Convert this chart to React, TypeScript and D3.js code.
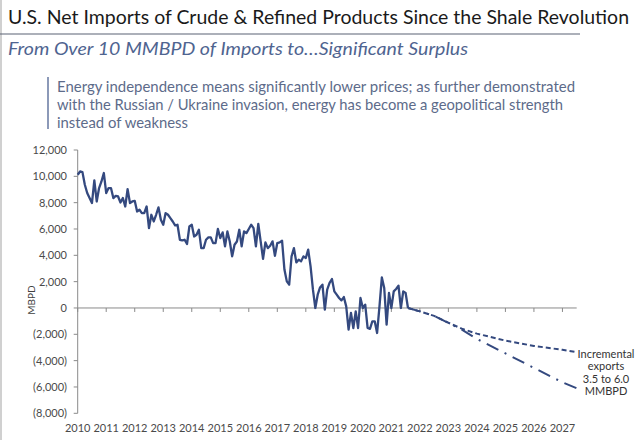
import React from 'react';
import * as d3 from 'd3';

const W = 640;
const H = 440;

// Monthly net imports (MBPD), Jan 2010 onward
const startYear = 2010;
const netImports = [
  10120, 10370, 10320, 9360, 8730, 8350, 7970, 9690, 8090, 9110, 9610, 10250,
  8730, 9110, 9110, 8350, 8520, 8470, 8010, 8350, 7710, 9030, 7970, 8090,
  8140, 7330, 7460, 7210, 7210, 7710, 6070, 7080, 6570, 7080, 7640, 6700,
  6320, 7210, 7080, 6830, 6570, 6270, 6320, 5180, 5130, 5180, 4860, 6190,
  6320, 5430, 5560, 5940, 4550, 4550, 5180, 5360, 5360, 4930, 4930, 6000,
  5310, 5740, 4680, 5810, 5050, 3920, 4800, 5050, 5940,
  4680, 5810, 5690, 6000, 6320, 6070, 4680, 6380, 5060, 3740, 4980, 4550,
  4730, 5060, 3970, 4930, 4980, 5110, 2920, 2020, 1770, 3920, 4550, 3460,
  3670, 3540, 3920, 3800, 4430, 3160, 1390, 0, 1010, 1560, 1770, -130,
  1390, 1900, 2200, 1260, 1010, 760, 580, 830, 120, -1650, -380, -1520,
  -260, -1520, 760, 0, 250, -1520, -1590, -1010, -1010, -1900, 120, 2320,
  1520, -1270, 1140, 0, 1260, 1440, 1690, 0, 1260, 1140, 0,
];

// Projections
const projYears = [2021.583, 2022, 2022.5, 2023, 2023.5, 2024, 2025, 2026, 2027, 2027.5];
const baseCase = [0, -260, -600, -1120, -1600, -1950, -2480, -2880, -3180, -3350];
const highCase = [0, -260, -600, -1140, -1680, -2350, -3450, -4550, -5650, -6100];

const yearTicks = d3.range(2010, 2028);
const yTickValues = [12000, 10000, 8000, 6000, 4000, 2000, 0, -2000, -4000, -6000, -8000];

const titleText = 'U.S. Net Imports of Crude & Refined Products Since the Shale Revolution';
const subtitleText = 'From Over 10 MMBPD of Imports to\u2026Significant Surplus';
const paragraphLines = [
  'Energy independence means significantly lower prices; as further demonstrated',
  'with the Russian / Ukraine invasion, energy has become a geopolitical strength',
  'instead of weakness',
];
const noteLines = ['Incremental', 'exports', '3.5 to 6.0', 'MMBPD'];

const FONT = 'Lato, "Open Sans", sans-serif';

export default function App() {
  const x = d3.scaleLinear().domain([2010, 2027.5]).range([77.7, 576.7]);
  const y = d3.scaleLinear().domain([-8000, 12000]).range([413.3, 150]);

  const histLine = d3
    .line<number>()
    .x((_, i) => x(startYear + i / 12))
    .y((d) => y(d));
  const projLine = d3
    .line<number>()
    .x((_, i) => x(projYears[i]))
    .y((d) => y(d));

  const fmt = (v: number) => (v < 0 ? `(${d3.format(',')(-v)})` : d3.format(',')(v));
  const lineColor = '#34497f';
  const axisColor = '#8a8a8a';

  return (
    <svg
      width={W}
      height={H}
      style={{ position: 'absolute', left: 0, top: 0, background: '#fff' }}
      fontFamily={FONT}
    >
      <line x1={1} x2={1} y1={0} y2={H} stroke="#d0d0d0" strokeWidth={2} />
      <text x={8} y={24} fontSize={19.5} fill="#1a1a1a" textLength={621} lengthAdjust="spacingAndGlyphs">
        {titleText}
      </text>
      <line x1={0} x2={580} y1={34} y2={34} stroke="#5a6275" strokeWidth={1.2} />
      <text
        x={8}
        y={55}
        fontSize={18}
        fontStyle="italic"
        fill="#4f6490"
        textLength={460}
        lengthAdjust="spacingAndGlyphs"
      >
        {subtitleText}
      </text>
      <line x1={48} x2={48} y1={77} y2={129} stroke="#6677a0" strokeWidth={1.5} />
      {paragraphLines.map((t, i) => (
        <text
          key={i}
          x={57}
          y={92 + i * 18}
          fontSize={15}
          fill="#5d6b8a"
          textLength={[518, 506, 131][i]}
          lengthAdjust="spacingAndGlyphs"
        >
          {t}
        </text>
      ))}

      {/* Y axis */}
      <line x1={x(2010)} x2={x(2010)} y1={y(12000)} y2={y(-8000)} stroke={axisColor} strokeWidth={1} />
      {yTickValues.map((v) => (
        <g key={v}>
          <line x1={x(2010) - 4} x2={x(2010)} y1={y(v)} y2={y(v)} stroke={axisColor} />
          <text x={67} y={y(v) + 4} fontSize={11} textAnchor="end" fill="#4a4a4a">
            {fmt(v)}
          </text>
        </g>
      ))}
      <text
        transform={`translate(35, ${y(0) - 8}) rotate(-90)`}
        fontSize={10}
        textAnchor="middle"
        fill="#404040"
      >
        MBPD
      </text>

      {/* X axis at zero */}
      <line x1={x(2010)} x2={x(2027.5)} y1={y(0)} y2={y(0)} stroke={axisColor} strokeWidth={1} />
      {yearTicks.map((yr) => (
        <g key={yr}>
          <line x1={x(yr)} x2={x(yr)} y1={y(0)} y2={y(0) + 4} stroke={axisColor} />
          <text x={x(yr)} y={432} fontSize={11} textAnchor="middle" fill="#4a4a4a">
            {yr}
          </text>
        </g>
      ))}

      {/* Data */}
      <path d={histLine(netImports) || ''} fill="none" stroke={lineColor} strokeWidth={2.3} strokeLinejoin="round" />
      <path
        d={projLine(baseCase) || ''}
        fill="none"
        stroke={lineColor}
        strokeWidth={2}
        strokeDasharray="5 3"
      />
      <path
        d={projLine(highCase) || ''}
        fill="none"
        stroke={lineColor}
        strokeWidth={2}
        strokeDasharray="13 7 2 7"
      />

      {noteLines.map((t, i) => (
        <text key={t} x={606} y={358 + i * 12.3} fontSize={11} textAnchor="middle" fill="#333">
          {t}
        </text>
      ))}
    </svg>
  );
}
